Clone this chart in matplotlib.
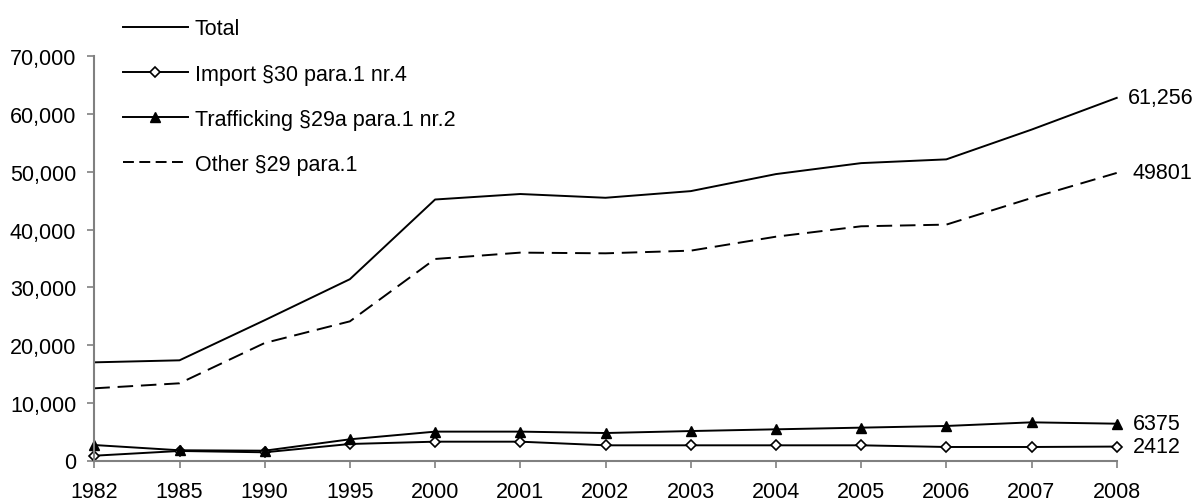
import numpy as np
import matplotlib.pyplot as plt
from matplotlib.lines import Line2D

plt.rcParams['font.family'] = ['Liberation Sans', 'DejaVu Sans']

years = ['1982', '1985', '1990', '1995', '2000', '2001', '2002', '2003',
         '2004', '2005', '2006', '2007', '2008']
total = [17000, 17350, 24300, 31400, 45200, 46150, 45500, 46650,
         49600, 51500, 52150, 57300, 62800]
imports = [830, 1650, 1420, 2860, 3260, 3260, 2630, 2630,
           2630, 2630, 2340, 2340, 2412]
trafficking = [2680, 1770, 1700, 3670, 5000, 5000, 4760, 5100,
               5400, 5690, 5980, 6610, 6375]
other = [12500, 13370, 20350, 24100, 34900, 36000, 35880, 36340,
         38760, 40560, 40850, 45460, 49801]
end_labels = ['61,256', '2412', '6375', '49801']

x = np.arange(len(years))
fs = 15.5

fig = plt.figure(figsize=(11.96, 5.02), dpi=100)
ax = fig.add_axes([94.3/1196, 1 - 461.5/502, (1116.7 - 94.3)/1196, (461.5 - 57.3)/502])

lw = 1.4
l1, = ax.plot(x, total, '-', c='black', lw=lw)
l2, = ax.plot(x, imports, '-', c='black', lw=lw, marker='D', ms=5,
              mfc='white', mec='black', mew=1.2)
l3, = ax.plot(x, trafficking, '-', c='black', lw=lw, marker='^', ms=6.5,
              mfc='black', mec='black')
l4, = ax.plot(x, other, '--', c='black', lw=lw, dashes=(8, 4))
# shorter dashes for the legend key
l4_key = Line2D([], [], c='black', lw=lw, ls='--', dashes=(5.6, 2.8))

ax.set_xlim(0, len(years) - 1)
ax.set_ylim(0, 70000)
ax.set_xticks(x)
ax.set_xticklabels(years)
ax.set_yticks(np.arange(0, 70001, 10000))
ax.set_yticklabels(['{:,}'.format(v) for v in range(0, 70001, 10000)])
ax.tick_params(labelsize=fs, length=5, width=1.2, color='#808080',
               direction='out', pad=8)
ax.tick_params(axis='x', pad=10)

for s in ['top', 'right']:
    ax.spines[s].set_visible(False)
for s in ['left', 'bottom']:
    ax.spines[s].set_color('#808080')
    ax.spines[s].set_linewidth(1.5)
for l in (l1, l2, l3, l4):
    l.set_clip_on(False)

series = [total, imports, trafficking, other]
offsets = [8, 11.5, 11.5, 11.5]
for lab, ys, off in zip(end_labels, series, offsets):
    ax.annotate(lab, (x[-1], ys[-1]), xytext=(off, 0), textcoords='offset points',
                va='center', ha='left', fontsize=fs, annotation_clip=False)

fig.legend([l1, l2, l3, l4_key],
           ['Total', 'Import §30 para.1 nr.4', 'Trafficking §29a para.1 nr.2',
            'Other §29 para.1'],
           loc='upper left', bbox_to_anchor=(123/1196, 1 - 19.5/502),
           frameon=False, fontsize=fs, handlelength=3.0, handletextpad=0.33,
           labelspacing=1.12, borderaxespad=0, borderpad=0)

fig.savefig('out.png', dpi=100)
